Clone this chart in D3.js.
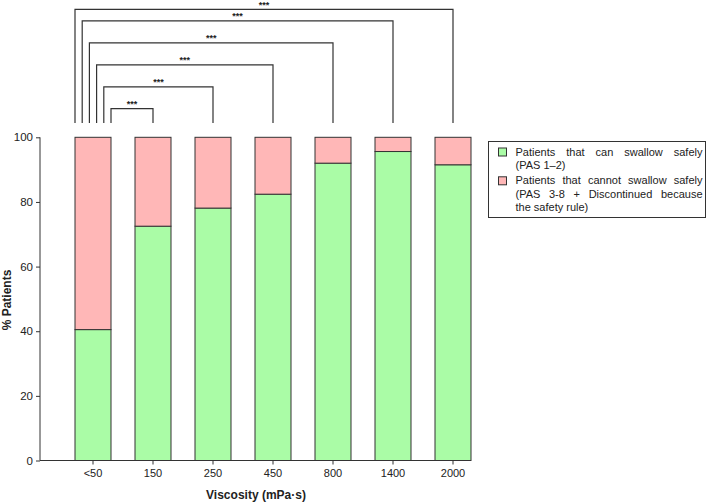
<!DOCTYPE html>
<html><head><meta charset="utf-8">
<script src="https://cdn.jsdelivr.net/npm/d3@7"></script>
<style>body{margin:0;background:#fff;} text{font-family:"Liberation Sans",Arial,sans-serif;fill:#222;}</style>
</head><body>
<svg id="c" width="709" height="502"></svg>
<script>
const categories = ["<50","150","250","450","800","1400","2000"];
const safe = [40.5,72.5,78.1,82.4,92.0,95.6,91.5];
const unsafe = safe.map(v => 100 - v);
const yTicks = [0,20,40,60,80,100];
const brackets = [
  {to:"150", level:108.9},
  {to:"250", level:115.6},
  {to:"450", level:122.4},
  {to:"800", level:129.2},
  {to:"1400", level:136.0},
  {to:"2000", level:139.6}
];
const bracketBase = 104.4;
const legendItems = [
  {color:"#aafca6", lines:["Patients that can swallow safely","(PAS 1\u20132)"]},
  {color:"#ffb7b7", lines:["Patients that cannot swallow safely","(PAS 3-8 +  Discontinued because","the safety rule)"]}
];
const GREEN="#aafca6", PINK="#ffb7b7", INK="#333";

const svg = d3.select("#c");
const x = d3.scaleBand().domain(categories).range([63,483]).paddingInner(0.4).paddingOuter(0.2);
const y = d3.scaleLinear().domain([0,100]).range([460.5,137.3]);

// bars
const g = svg.append("g");
categories.forEach((c,i)=>{
  g.append("rect").attr("x",x(c)).attr("width",x.bandwidth())
    .attr("y",y(safe[i])).attr("height",y(0)-y(safe[i]))
    .attr("fill",GREEN).attr("stroke",INK).attr("stroke-width",1);
  g.append("rect").attr("x",x(c)).attr("width",x.bandwidth())
    .attr("y",y(100)).attr("height",y(100-unsafe[i])-y(100))
    .attr("fill",PINK).attr("stroke",INK).attr("stroke-width",1);
});

// y axis
const ya = svg.append("g").attr("transform","translate(40,0)")
  .call(d3.axisLeft(y).tickValues(yTicks).tickSize(4).tickPadding(3));
ya.select(".domain").attr("stroke",INK).attr("d",`M0,${y(100)}V${y(0)}`);
ya.selectAll(".tick line").attr("stroke",INK);
ya.selectAll("text").style("font-size","11.5px").attr("fill","#222");

// x axis
const xa = svg.append("g").attr("transform",`translate(0,${y(0)})`)
  .call(d3.axisBottom(x).tickSize(4).tickPadding(5));
xa.select(".domain").attr("stroke",INK).attr("d",`M40,0H${x("2000")+x.bandwidth()}`);
xa.selectAll(".tick line").attr("stroke",INK);
xa.selectAll("text").style("font-size","11px").attr("fill","#222");

// axis titles
svg.append("text").attr("x",256).attr("y",499).attr("text-anchor","middle")
  .style("font-size","12px").style("font-weight","bold").text("Viscosity (mPa\u00b7s)");
svg.append("text").attr("transform","translate(11,300) rotate(-90)").attr("text-anchor","middle")
  .style("font-size","12px").style("font-weight","bold").text("% Patients");

// brackets
const bg = svg.append("g");
brackets.forEach((b,i)=>{
  const x0 = x("<50") + x.bandwidth()*(5-i)/5;
  const x1 = x(b.to) + x.bandwidth()/2;
  bg.append("path").attr("d",`M${x0},${y(bracketBase)}V${y(b.level)}H${x1}V${y(bracketBase)}`)
    .attr("fill","none").attr("stroke",INK).attr("stroke-width",1.2);
  bg.append("text").attr("x",(x0+x1)/2).attr("y",y(b.level)-1.5).attr("text-anchor","middle")
    .style("font-size","9px").style("font-weight","bold").text("***");
});

// legend
const lg = svg.append("g");
lg.append("rect").attr("x",488.5).attr("y",141.5).attr("width",217).attr("height",76)
  .attr("fill","#fff").attr("stroke",INK).attr("stroke-width",1);
const tx0 = 515.5, tx1 = 702.5, lh = 13.4;
let ly = 155.5;
legendItems.forEach((it,k)=>{
  lg.append("rect").attr("x",498.5).attr("y",ly-7.5).attr("width",8).attr("height",8)
    .attr("fill",it.color).attr("stroke",INK).attr("stroke-width",1);
  it.lines.forEach((ln,j)=>{
    const justify = j < it.lines.length-1;
    if(!justify){
      lg.append("text").attr("x",tx0).attr("y",ly).style("font-size","11px").text(ln);
    } else {
      const words = ln.split(/\s+/);
      const ws = words.map(w=>{
        const t = lg.append("text").attr("x",0).attr("y",ly).style("font-size","11px").text(w);
        return {t, w:t.node().getComputedTextLength()};
      });
      const total = ws.reduce((a,b)=>a+b.w,0);
      const gap = (tx1-tx0-total)/(words.length-1);
      let cx = tx0;
      ws.forEach(o=>{ o.t.attr("x",cx); cx += o.w + gap; });
    }
    ly += lh;
  });
  ly += 2;
});
</script>
</body></html>
